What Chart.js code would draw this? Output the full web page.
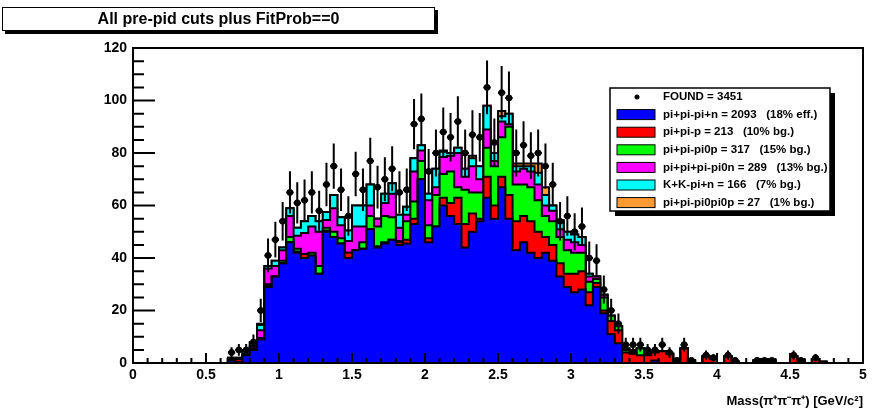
<!DOCTYPE html>
<html>
<head>
<meta charset="utf-8">
<title>All pre-pid cuts plus FitProb==0</title>
<script src="https://cdn.jsdelivr.net/npm/chart.js"></script>
<style>
  body { margin: 0; background: #fff; }
  #wrap { position: relative; width: 875px; height: 411px; }
  #titulo {
    position: absolute; left: 2px; top: 7px; width: 431px; height: 22px;
    border: 1px solid #000; box-shadow: 3px 3px 0 #000; background: #fff;
    font: bold 16px 'Liberation Sans', Arial, sans-serif;
    text-align: center; line-height: 22px;
  }
</style>
</head>
<body>
<div id="wrap">
  <canvas id="myChart" width="875" height="411"></canvas>
  <div id="titulo">All pre-pid cuts plus FitProb==0</div>
</div>
<script>
  // Histogram bins: 0.05 GeV wide, first listed bin starts at 0.60
  var firstEdge = 0.60;
  var binWidth = 0.05;

  // Stacked MC components, one value per bin (0.60 ... 4.75)
  var piPiPiN = [
    0, 1, 0.5, 3, 5, 9, 29, 33, 38, 46,
    42, 40, 41, 34, 50, 48, 45.5, 40, 43, 43.5,
    51, 44, 45.5, 47, 45, 45.5, 53, 70, 46, 52,
    60, 56, 53, 44, 50, 54, 63, 55, 67, 55,
    43, 46, 42, 40, 42, 39, 33, 29, 27, 28,
    22, 29, 19, 11, 7.5, 0, 0, 0, 0, 1,
    0, 0, 0, 0, 0, 0, 0, 0, 0, 0,
    0, 0, 0, 0, 0, 0, 0, 0, 0, 0,
    0, 0, 0, 0
  ];
  var piPiP = [
    0, 0.5, 1, 0, 0.5, 0, 0.5, 0, 0, 0,
    0.5, 1.5, 0, 0, 0.5, 0, 0, 2, 0, 0,
    0, 0.5, 0.5, 0, 1, 1.5, 2, 0, 1.5, 0,
    3, 5, 10, 9, 7, 1, 8, 5, 4, 9,
    11, 10, 12, 10, 6, 6, 5, 5, 7, 7,
    5, 1.5, 1, 5, 5, 4, 3.5, 3, 3, 3,
    4.5, 3.5, 0.5, 5.5, 1, 0, 2.5, 1.5, 0, 2.5,
    0.5, 0, 0, 1, 1.5, 1, 0, 0, 2.5, 1,
    0, 1.5, 0.5, 0
  ];
  var piPiPi0P = [
    0, 0, 0, 0, 0, 0.5, 0.5, 0, 1, 2,
    1, 0, 1, 3, 1, 2, 2, 0, 0, 2.5,
    5, 7.5, 10, 8.5, 0.5, 7, 6.5, 7, 5, 12,
    9, 12, 4, 13, 8, 10, 11, 15, 15, 26,
    14, 12, 13, 12, 8, 9, 10, 9, 8, 7,
    4, 1.5, 5, 2, 1.5, 1, 0.5, 2.5, 0, 0,
    0, 0, 0, 0, 0, 0, 0, 0, 0, 0,
    0, 0, 0, 0, 0, 0, 0, 0, 0, 0,
    0, 0, 0, 0
  ];
  var piPiPiPi0N = [
    0, 0, 0, 0.5, 1, 3, 6, 4, 4, 8,
    5, 8, 10, 13, 3, 9, 5, 4.5, 9, 6,
    4, 3, 5, 9, 5, 2.5, 11.5, 4, 9.5, 3,
    6.5, 6, 13, 5, 10, 5, 7, 2, 6, 1,
    5, 6, 6, 6, 4, 4, 3, 4, 4, 3,
    2, 1, 1, 0, 0, 0.5, 0.5, 0, 0.5, 0,
    0, 0, 0, 0, 0, 0, 0, 0, 0, 0,
    0, 0, 0, 0, 0, 0, 0, 0, 0, 0,
    0, 0, 0, 0
  ];
  var kKPiN = [
    0, 0.5, 0.5, 1, 1, 2, 1, 2, 1, 3,
    3, 4.5, 4, 4, 3, 5, 3, 4, 8, 8,
    8, 0, 3.5, 4, 5, 3, 5, 2, 2.5, 7,
    2, 1, 2, 3, 3, 5, 9, 3, 2, 4,
    2, 1, 2, 4.5, 4, 2, 3, 3, 3, 3,
    1, 0, 0, 0, 0, 0, 0.5, 0, 0, 0,
    0, 0, 0, 0, 0, 0, 0, 0, 0, 0,
    0, 0, 0, 0, 0, 0, 0, 0, 0, 0,
    0, 0, 0, 0
  ];
  var piPiPi0Pi0P = [
    0, 0, 0, 0.5, 0.5, 0.5, 0, 0, 0, 0,
    0, 0, 0, 0, 0, 0, 0, 0, 0, 0,
    0, 0, 0, 0, 0, 0, 0, 0, 0, 0,
    0.5, 0, 0, 0, 1, 0, 0, 0, 2, 0,
    1, 1, 1, 3.5, 3, 0, 0.5, 0, 0, 0,
    0, 0, 0, 0, 0, 0, 0, 0, 0, 0,
    0, 0, 0, 0, 0, 0, 0, 0, 0, 0,
    0, 0, 0, 0, 0, 0, 0, 0, 0, 0,
    0, 0, 0, 0
  ];

  // Data events per bin
  var found = [
    0, 4, 5, 5, 8, 20, 41, 47, 54, 65,
    61, 62, 65, 58, 68, 75, 66, 56, 72, 66,
    77, 67, 70, 74, 65, 66, 91, 93, 73, 80,
    88, 86, 92, 80, 87, 86, 105, 84, 103, 101,
    80, 83, 79, 80, 75, 68, 54, 56, 50, 52,
    40, 39, 28, 20, 15, 7, 7, 7, 5, 5,
    7, 4, 1, 7, 1, 0, 3, 2, 0, 3,
    1, 0, 0, 1, 1, 1, 0, 0, 3, 1,
    0, 2, 0, 0
  ];

  var componentes = [piPiPiN, piPiP, piPiPi0P, piPiPiPi0N, kKPiN, piPiPi0Pi0P];
  var etiquetas = [
    'pi+pi-pi+n = 2093   (18% eff.)',
    'pi+pi-p = 213   (10% bg.)',
    'pi+pi-pi0p = 317   (15% bg.)',
    'pi+pi+pi-pi0n = 289   (13% bg.)',
    'K+K-pi+n = 166   (7% bg.)',
    'pi+pi-pi0pi0p = 27   (1% bg.)'
  ];
  var colores = ['#0000ff', '#ff0000', '#00ff00', '#ff00ff', '#00ffff', '#ff9933'];

  // left bin edges, for the stepped outline
  function bordes(valores) {
    return valores.map(function (v, i) { return { x: firstEdge + i * binWidth, y: v }; });
  }
  // bin centres, for the data points
  function centros(valores) {
    var pts = [];
    valores.forEach(function (v, i) {
      if (v > 0) pts.push({ x: firstEdge + (i + 0.5) * binWidth, y: v });
    });
    return pts;
  }

  var datasets = [{
    type: 'scatter',
    label: 'FOUND = 3451',
    data: centros(found),
    stack: 'found',
    pointRadius: 3,
    pointBackgroundColor: '#000',
    pointBorderColor: '#000'
  }];
  componentes.forEach(function (c, i) {
    datasets.push({
      type: 'line',
      label: etiquetas[i],
      data: bordes(c),
      stack: 'mc',
      stepped: true,
      fill: 'origin',
      backgroundColor: colores[i],
      borderColor: '#000',
      borderWidth: 2,
      pointRadius: 0,
      tension: 0
    });
  });

  // error bars, frame and inward ticks in ROOT style
  var marcoEjes = {
    id: 'marcoEjes',
    afterDatasetsDraw: function (chart) {
      var ctx = chart.ctx, a = chart.chartArea;
      var xs = chart.scales.x, ys = chart.scales.y;
      ctx.save();
      ctx.strokeStyle = '#000';
      ctx.lineWidth = 2;

      chart.data.datasets[0].data.forEach(function (p) {
        var err = Math.sqrt(p.y); // Poisson
        var px = xs.getPixelForValue(p.x), py = ys.getPixelForValue(p.y);
        ctx.beginPath();
        ctx.moveTo(px, ys.getPixelForValue(p.y - err));
        ctx.lineTo(px, ys.getPixelForValue(p.y + err));
        ctx.moveTo(xs.getPixelForValue(p.x - binWidth / 2), py);
        ctx.lineTo(xs.getPixelForValue(p.x + binWidth / 2), py);
        ctx.stroke();
      });

      ctx.strokeRect(a.left, a.top, a.right - a.left, a.bottom - a.top);

      ctx.beginPath();
      for (var i = 0; i <= 50; i++) {
        var tx = xs.getPixelForValue(i * 0.1);
        ctx.moveTo(tx, a.bottom);
        ctx.lineTo(tx, a.bottom - (i % 5 === 0 ? 10 : 5));
      }
      for (var j = 0; j <= 24; j++) {
        var ty = ys.getPixelForValue(j * 5);
        ctx.moveTo(a.left, ty);
        ctx.lineTo(a.left + (j % 4 === 0 ? 22 : 11), ty);
      }
      ctx.stroke();
      ctx.restore();
    }
  };

  var leyenda = {
    id: 'leyenda',
    afterDraw: function (chart) {
      var ctx = chart.ctx;
      var x0 = 610, y0 = 88, w = 220, h = 123;
      ctx.save();
      ctx.fillStyle = '#000';
      ctx.fillRect(x0 + 5, y0 + 5, w, h);
      ctx.fillStyle = '#fff';
      ctx.fillRect(x0, y0, w, h);
      ctx.strokeStyle = '#000';
      ctx.lineWidth = 1.5;
      ctx.strokeRect(x0, y0, w, h);
      ctx.font = "bold 11.5px 'Liberation Sans', Arial, sans-serif";
      ctx.textBaseline = 'middle';
      chart.data.datasets.forEach(function (ds, i) {
        var y = y0 + 9 + i * 17.6;
        if (ds.type === 'scatter') {
          ctx.fillStyle = '#000';
          ctx.beginPath();
          ctx.arc(637, y, 2.5, 0, Math.PI * 2);
          ctx.fill();
        } else {
          ctx.fillStyle = ds.backgroundColor;
          ctx.fillRect(617, y - 5, 38, 10);
          ctx.lineWidth = 1;
          ctx.strokeRect(617, y - 5, 38, 10);
        }
        ctx.fillStyle = '#000';
        ctx.fillText(ds.label, 663, y);
      });
      ctx.restore();
    }
  };

  Chart.defaults.font.family = "'Liberation Sans', Arial, sans-serif";
  Chart.defaults.font.weight = 'bold';
  Chart.defaults.color = '#000';

  var ctx = document.getElementById('myChart').getContext('2d');
  var myChart = new Chart(ctx, {
    type: 'line',
    data: { datasets: datasets },
    plugins: [marcoEjes, leyenda],
    options: {
      responsive: false,
      animation: false,
      layout: { padding: { top: 48, right: 12, left: 0, bottom: 0 } },
      plugins: { legend: { display: false }, tooltip: { enabled: false } },
      scales: {
        x: {
          type: 'linear', min: 0, max: 5,
          grid: { display: false, drawTicks: false },
          border: { display: false },
          afterFit: function (s) { s.height = 48; },
          ticks: {
            stepSize: 0.5, autoSkip: false, maxRotation: 0, padding: 4,
            font: { size: 14, weight: 'bold' },
            callback: function (v) { return String(Math.round(v * 10) / 10); }
          },
          title: {
            display: true, align: 'end', text: 'Mass(π⁺π⁻π⁺) [GeV/c²]',
            font: { size: 13, weight: 'bold' }, padding: { top: 0, bottom: 2 }
          }
        },
        y: {
          stacked: true, min: 0, max: 120,
          grid: { display: false, drawTicks: false },
          border: { display: false },
          afterFit: function (s) { s.width = 133; },
          ticks: { stepSize: 20, padding: 6, font: { size: 14, weight: 'bold' } }
        }
      }
    }
  });
</script>
</body>
</html>
